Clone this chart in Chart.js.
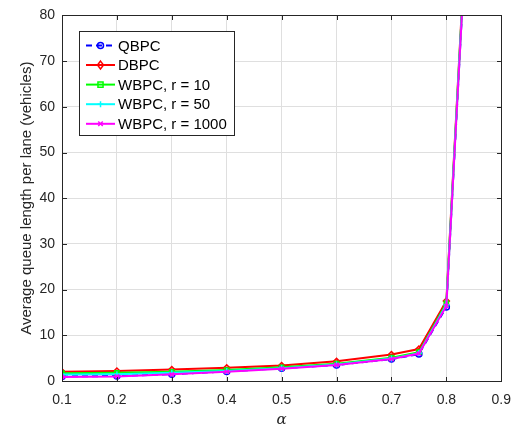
<!DOCTYPE html>
<html>
<head>
<meta charset="utf-8">
<script src="https://cdn.jsdelivr.net/npm/chart.js"></script>
<style>
  html, body { margin: 0; padding: 0; background: #fff; }
  canvas { display: block; }
</style>
</head>
<body>
<canvas id="plot" width="522" height="429"></canvas>
<script>
// load factor values along the x axis
const alphaValues = [0.1, 0.2, 0.3, 0.4, 0.5, 0.6, 0.7, 0.75, 0.8, 0.85];

// average queue length per lane (vehicles)
const qbpc      = [1.0, 1.1, 1.5, 2.1, 2.8, 3.5, 4.8, 5.9, 16.2, 129];
const dbpc      = [2.0, 2.2, 2.5, 2.9, 3.4, 4.3, 5.8, 7.0, 17.5, 131];
const wbpc10    = [1.7, 1.8, 2.0, 2.4, 3.0, 3.8, 5.1, 6.3, 17.0, 130];
const wbpc50    = [1.4, 1.5, 1.8, 2.2, 2.8, 3.6, 4.9, 6.1, 16.7, 130];
const wbpc1000  = [0.9, 1.0, 1.45, 2.0, 2.7, 3.5, 4.8, 6.0, 16.4, 129];

const xTicks = [0.1, 0.2, 0.3, 0.4, 0.5, 0.6, 0.7, 0.8, 0.9];
const yTicks = [0, 10, 20, 30, 40, 50, 60, 70, 80];

const AXIS_COLOR = '#262626';
const GRID_COLOR = '#dfdfdf';
const FONT = '"Liberation Sans", Arial, sans-serif';

const toPoints = ys => alphaValues.map((x, i) => ({ x, y: ys[i] }));

function series(label, values, color, marker, order, dash) {
    return {
        label,
        data: toPoints(values),
        borderColor: color,
        borderWidth: 2,
        borderDash: dash || [],
        pointStyle: marker,
        pointRadius: 3,
        pointBorderWidth: 1.5,
        pointBorderColor: color,
        pointBackgroundColor: 'rgba(0,0,0,0)',
        order,
        tension: 0
    };
}

// small MATLAB-style marker drawing for the legend
function drawMarker(ctx, style, x, y, r, color) {
    ctx.save();
    ctx.strokeStyle = color;
    ctx.lineWidth = 1.5;
    ctx.setLineDash([]);
    ctx.beginPath();
    if (style === 'circle') {
        ctx.arc(x, y, r, 0, Math.PI * 2);
    } else if (style === 'rectRot') {
        ctx.moveTo(x, y - r * 1.3); ctx.lineTo(x + r, y);
        ctx.lineTo(x, y + r * 1.3); ctx.lineTo(x - r, y); ctx.closePath();
    } else if (style === 'rect') {
        ctx.rect(x - r * 0.85, y - r * 0.85, r * 1.7, r * 1.7);
    } else if (style === 'cross') {
        ctx.moveTo(x - r, y); ctx.lineTo(x + r, y);
        ctx.moveTo(x, y - r); ctx.lineTo(x, y + r);
    } else if (style === 'crossRot') {
        const d = r * 0.75;
        ctx.moveTo(x - d, y - d); ctx.lineTo(x + d, y + d);
        ctx.moveTo(x - d, y + d); ctx.lineTo(x + d, y - d);
    }
    ctx.stroke();
    ctx.restore();
}

// box around the axes with inward tick marks on all four sides
const axesBoxPlugin = {
    id: 'axesBox',
    afterDatasetsDraw(chart) {
        const { ctx, chartArea: a, scales } = chart;
        ctx.save();
        ctx.strokeStyle = AXIS_COLOR;
        ctx.lineWidth = 1;
        ctx.setLineDash([]);
        const L = Math.round(a.left) + 0.5, R = Math.round(a.right) + 0.5;
        const T = Math.round(a.top) + 0.5, B = Math.round(a.bottom) + 0.5;
        ctx.strokeRect(L, T, R - L, B - T);
        const len = 4.5;
        ctx.beginPath();
        xTicks.forEach(v => {
            const px = Math.round(scales.x.getPixelForValue(v)) + 0.5;
            ctx.moveTo(px, B); ctx.lineTo(px, B - len);
            ctx.moveTo(px, T); ctx.lineTo(px, T + len);
        });
        yTicks.forEach(v => {
            const py = Math.round(scales.y.getPixelForValue(v)) + 0.5;
            ctx.moveTo(L, py); ctx.lineTo(L + len, py);
            ctx.moveTo(R, py); ctx.lineTo(R - len, py);
        });
        ctx.stroke();
        ctx.restore();
    }
};

// legend box in the upper-left corner of the axes
const boxLegendPlugin = {
    id: 'boxLegend',
    afterDraw(chart) {
        const { ctx, chartArea: a } = chart;
        const sets = chart.data.datasets;
        const x0 = a.left + 17, y0 = a.top + 16;
        const w = 155, rowH = 19.6, h = 104;
        ctx.save();
        ctx.fillStyle = '#fff';
        ctx.fillRect(x0, y0, w, h);
        ctx.strokeStyle = AXIS_COLOR;
        ctx.lineWidth = 1;
        ctx.strokeRect(Math.round(x0) + 0.5, Math.round(y0) + 0.5, w, h);
        ctx.font = '15px ' + FONT;
        ctx.textBaseline = 'middle';
        sets.forEach((ds, i) => {
            const cy = y0 + 14 + i * rowH;
            ctx.strokeStyle = ds.borderColor;
            ctx.lineWidth = 2;
            ctx.setLineDash(ds.borderDash);
            ctx.beginPath();
            ctx.moveTo(x0 + 7, cy); ctx.lineTo(x0 + 36, cy);
            ctx.stroke();
            drawMarker(ctx, ds.pointStyle, x0 + 21.5, cy, 3, ds.borderColor);
            ctx.fillStyle = '#000';
            ctx.fillText(ds.label, x0 + 39, cy + 1);
        });
        ctx.restore();
    }
};

new Chart(document.getElementById('plot'), {
    type: 'line',
    data: {
        datasets: [
            series('QBPC', qbpc, '#0000ff', 'circle', 4, [6, 4]),
            series('DBPC', dbpc, '#ff0000', 'rectRot', 3),
            series('WBPC, r = 10', wbpc10, '#00ff00', 'rect', 2),
            series('WBPC, r = 50', wbpc50, '#00ffff', 'cross', 1),
            series('WBPC, r = 1000', wbpc1000, '#ff00ff', 'crossRot', 0)
        ]
    },
    options: {
        responsive: false,
        animation: false,
        layout: { padding: { top: 13, right: 14, left: 0, bottom: 0 } },
        plugins: {
            legend: { display: false },
            tooltip: { enabled: false }
        },
        scales: {
            x: {
                type: 'linear',
                min: 0.1,
                max: 0.9,
                afterFit: s => { s.height = 48; },
                afterBuildTicks: s => { s.ticks = xTicks.map(v => ({ value: v })); },
                grid: { color: GRID_COLOR, drawTicks: false },
                border: { display: false },
                ticks: {
                    padding: 11,
                    color: AXIS_COLOR,
                    font: { family: FONT, size: 14 },
                    callback: v => v.toFixed(1)
                },
                title: {
                    display: true,
                    text: 'α',
                    color: AXIS_COLOR,
                    padding: 0,
                    font: { family: '"DejaVu Serif", "Liberation Serif", serif', size: 15, style: 'italic' }
                }
            },
            y: {
                min: 0,
                max: 80,
                afterFit: s => { s.width = 62; },
                afterBuildTicks: s => { s.ticks = yTicks.map(v => ({ value: v })); },
                grid: { color: GRID_COLOR, drawTicks: false },
                border: { display: false },
                ticks: {
                    padding: 7,
                    color: AXIS_COLOR,
                    font: { family: FONT, size: 14 },
                    callback: v => String(v)
                },
                title: {
                    display: true,
                    text: 'Average queue length per lane (vehicles)',
                    color: AXIS_COLOR,
                    padding: { top: 18, bottom: 0 },
                    font: { family: FONT, size: 15 }
                }
            }
        }
    },
    plugins: [axesBoxPlugin, boxLegendPlugin]
});
</script>
</body>
</html>
